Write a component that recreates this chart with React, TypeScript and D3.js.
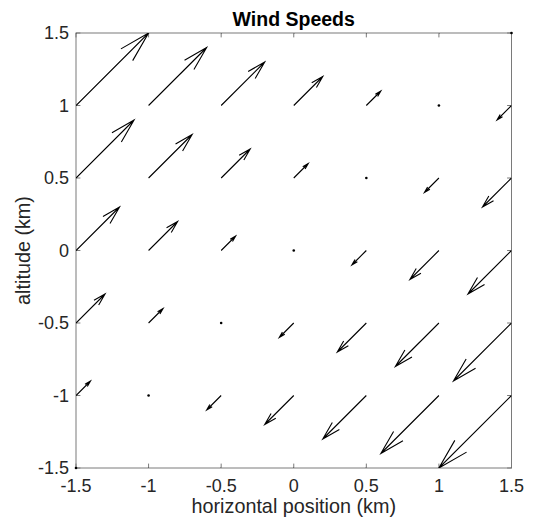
import React from 'react';
import * as d3 from 'd3';

// grid positions (km)
const xPositions = [-1.5, -1, -0.5, 0, 0.5, 1, 1.5];
const yPositions = [1.5, 1, 0.5, 0, -0.5, -1, -1.5];

// wind components, one row per altitude (top row first)
const windU = [
  [0.6, 0.5, 0.4, 0.3, 0.2, 0.1, 0],
  [0.5, 0.4, 0.3, 0.2, 0.1, 0, -0.1],
  [0.4, 0.3, 0.2, 0.1, 0, -0.1, -0.2],
  [0.3, 0.2, 0.1, 0, -0.1, -0.2, -0.3],
  [0.2, 0.1, 0, -0.1, -0.2, -0.3, -0.4],
  [0.1, 0, -0.1, -0.2, -0.3, -0.4, -0.5],
  [0, -0.1, -0.2, -0.3, -0.4, -0.5, -0.6],
];
const windV = [
  [0.6, 0.5, 0.4, 0.3, 0.2, 0.1, 0],
  [0.5, 0.4, 0.3, 0.2, 0.1, 0, -0.1],
  [0.4, 0.3, 0.2, 0.1, 0, -0.1, -0.2],
  [0.3, 0.2, 0.1, 0, -0.1, -0.2, -0.3],
  [0.2, 0.1, 0, -0.1, -0.2, -0.3, -0.4],
  [0.1, 0, -0.1, -0.2, -0.3, -0.4, -0.5],
  [0, -0.1, -0.2, -0.3, -0.4, -0.5, -0.6],
];

const tickValues = [-1.5, -1, -0.5, 0, 0.5, 1, 1.5];
const tickLabels = ['-1.5', '-1', '-0.5', '0', '0.5', '1', '1.5'];

const title = 'Wind Speeds';
const xLabel = 'horizontal position (km)';
const yLabel = 'altitude (km)';

const App = () => {
  const width = 533;
  const height = 520;
  const margin = { top: 33, right: 21.5, bottom: 52, left: 76 };
  const font = '"Liberation Sans", Arial, Helvetica, sans-serif';
  const axisColor = '#7a7a7a';
  const tickLen = 4.4;

  const x = d3.scaleLinear().domain([-1.5, 1.5]).range([margin.left, width - margin.right]);
  const y = d3.scaleLinear().domain([-1.5, 1.5]).range([height - margin.bottom, margin.top]);

  // arrow head shape (fractions of the vector)
  const alpha = 0.3;
  const beta = 0.27;

  const arrows: { d: string; key: string }[] = [];
  const dots: { cx: number; cy: number; key: string }[] = [];

  yPositions.forEach((yv, r) => {
    xPositions.forEach((xv, c) => {
      const u = windU[r][c];
      const v = windV[r][c];
      if (u === 0 && v === 0) {
        dots.push({ cx: x(xv), cy: y(yv), key: `${r}-${c}` });
        return;
      }
      const tx = xv + u;
      const ty = yv + v;
      const path = d3.path();
      path.moveTo(x(xv), y(yv));
      path.lineTo(x(tx), y(ty));
      path.moveTo(x(tx - alpha * (u + beta * v)), y(ty - alpha * (v - beta * u)));
      path.lineTo(x(tx), y(ty));
      path.lineTo(x(tx - alpha * (u - beta * v)), y(ty - alpha * (v + beta * u)));
      arrows.push({ d: path.toString(), key: `${r}-${c}` });
    });
  });

  const x0 = x.range()[0];
  const x1 = x.range()[1];
  const y0 = y.range()[1];
  const y1 = y.range()[0];

  return (
    <svg width={width} height={height} style={{ position: 'absolute', left: 0, top: 0, background: '#fff' }}>
      <defs>
        <clipPath id="plot-clip">
          <rect x={x0} y={y0} width={x1 - x0} height={y1 - y0} />
        </clipPath>
      </defs>

      {/* box */}
      <rect x={x0} y={y0} width={x1 - x0} height={y1 - y0} fill="none" stroke={axisColor} strokeWidth={1} />

      {/* ticks on all four sides, pointing in */}
      {tickValues.map((t) => (
        <g key={`t${t}`} stroke={axisColor} strokeWidth={1}>
          <line x1={x(t)} x2={x(t)} y1={y1} y2={y1 - tickLen} />
          <line x1={x(t)} x2={x(t)} y1={y0} y2={y0 + tickLen} />
          <line x1={x0} x2={x0 + tickLen} y1={y(t)} y2={y(t)} />
          <line x1={x1} x2={x1 - tickLen} y1={y(t)} y2={y(t)} />
        </g>
      ))}

      {/* tick labels */}
      {tickValues.map((t, i) => (
        <text key={`xl${t}`} x={x(t)} y={492} textAnchor="middle" fontFamily={font} fontSize={18} fill="#262626">
          {tickLabels[i]}
        </text>
      ))}
      {tickValues.map((t, i) => (
        <text key={`yl${t}`} x={69} y={y(t)} dy="0.35em" textAnchor="end" fontFamily={font} fontSize={18} fill="#262626">
          {tickLabels[i]}
        </text>
      ))}

      {/* arrows */}
      <g clipPath="url(#plot-clip)" fill="none" stroke="#000" strokeWidth={1.1} strokeLinejoin="miter">
        {arrows.map((a) => (
          <path key={a.key} d={a.d} />
        ))}
      </g>
      {dots.map((p) => (
        <circle key={p.key} cx={p.cx} cy={p.cy} r={1.3} fill="#000" />
      ))}

      {/* labels */}
      <text x={(x0 + x1) / 2} y={26} textAnchor="middle" fontFamily={font} fontSize={19.5} fontWeight="bold" fill="#000">
        {title}
      </text>
      <text x={(x0 + x1) / 2} y={513} textAnchor="middle" fontFamily={font} fontSize={19.8} fill="#262626">
        {xLabel}
      </text>
      <text
        transform={`translate(30,${(y0 + y1) / 2}) rotate(-90)`}
        textAnchor="middle"
        fontFamily={font}
        fontSize={19.8}
        fill="#262626"
      >
        {yLabel}
      </text>
    </svg>
  );
};

export default App;
